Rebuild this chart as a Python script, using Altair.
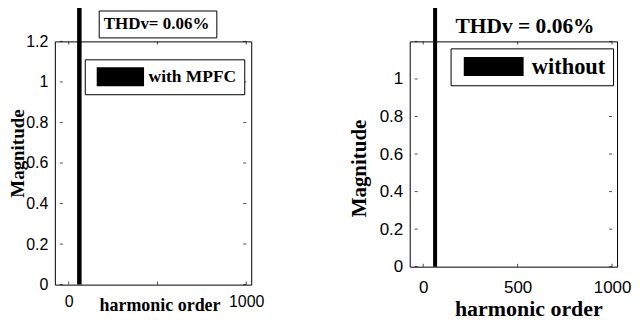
import altair as alt
import pandas as pd

# ---- data ----
series_names = ["with MPFC", "without"]
thd_texts = ["THDv= 0.06%", "THDv = 0.06%"]
spike_order = [60, 63]        # harmonic order of the single spike
spike_mag = [1.4, 1.4]        # magnitude of the spike (runs above the axes)
x_tick_vals = [0, 500, 1000]
y_tick_vals = [0, 0.2, 0.4, 0.6, 0.8, 1, 1.2]
left_x_labels = [0, 1000]
right_x_labels = [0, 500, 1000]
left_y_labels = [0, 0.2, 0.4, 0.6, 0.8, 1, 1.2]
right_y_labels = [0, 0.2, 0.4, 0.6, 0.8, 1]
x_min = [-50, -45]
x_max = 1000
y_max = 1.2

SERIF = "Liberation Serif, Times New Roman, serif"
NARROW = "Liberation Sans Narrow, Arial Narrow, Liberation Sans, Arial, sans-serif"
SANS = "Liberation Sans, Arial, sans-serif"


def edge_ticks(xs, ys, xmin, xaxis, yaxis):
    n = len(y_tick_vals)
    m = len(x_tick_vals)
    bottom = pd.DataFrame({"order": x_tick_vals, "mag": [0] * m})
    top = pd.DataFrame({"order": x_tick_vals, "mag": [y_max] * m})
    left = pd.DataFrame({"order": [xmin] * n, "mag": y_tick_vals})
    right = pd.DataFrame({"order": [x_max] * n, "mag": y_tick_vals})
    enc = dict(x=alt.X("order:Q", scale=xs, axis=xaxis), y=alt.Y("mag:Q", scale=ys, axis=yaxis))
    return [
        alt.Chart(bottom).mark_tick(orient="vertical", size=3, thickness=1, color="black", yOffset=-1.5).encode(**enc),
        alt.Chart(top).mark_tick(orient="vertical", size=3, thickness=1, color="black", yOffset=1.5).encode(**enc),
        alt.Chart(left).mark_tick(orient="horizontal", size=3, thickness=1, color="black", xOffset=1.5).encode(**enc),
        alt.Chart(right).mark_tick(orient="horizontal", size=3, thickness=1, color="black", xOffset=-1.5).encode(**enc),
    ]


def thd_layer(text, lx, ly, size, boxed, pad):
    df = pd.DataFrame({"thd": [text]})
    extra = dict(strokeColor="black", fillColor="white") if boxed else {}
    return alt.Chart(df).mark_point(opacity=0).encode(
        shape=alt.Shape("thd:N", legend=alt.Legend(
            title=text, titleOrient="left", titlePadding=0,
            titleFont=SERIF, titleFontSize=size, titleFontWeight="bold", titleColor="black",
            titleBaseline="top", titleLimit=400,
            orient="none", legendX=lx, legendY=ly, padding=pad,
            symbolSize=1, symbolOpacity=0, symbolStrokeWidth=0,
            labelExpr="''", labelFontSize=1, labelOffset=0, **extra)),
    )


def axis(values, fmt, title, tsize, tx, ty, angle, lfont, lsize, lpad):
    kw = dict(values=values, format=fmt, title=title,
              titleFont=SERIF, titleFontSize=tsize, titleFontWeight="bold", titleColor="black",
              titleX=tx, titleY=ty, titleBaseline="middle", titleAlign="center",
              labelFont=lfont, labelFontSize=lsize, labelColor="black", labelPadding=lpad,
              labelFlush=False, labelOverlap=False, ticks=False, tickSize=0, domain=False, grid=False)
    if angle is not None:
        kw["titleAngle"] = angle
    return alt.Axis(**kw)


# ---------------- left panel ----------------
xsL = alt.Scale(domain=[x_min[0], x_max], nice=False, zero=False)
ysL = alt.Scale(domain=[0, y_max], nice=False)
xaxL = axis(left_x_labels, "d", "harmonic order", 18, 105, 21, None, NARROW, 16, 9)
yaxL = axis(left_y_labels, "~g", "Magnitude", 19, -37, 112, 270, NARROW, 16, 7)

barL_df = pd.DataFrame({"order": [spike_order[0]], "mag": [spike_mag[0]], "series": [series_names[0]]})
barL = alt.Chart(barL_df).mark_bar(size=4.5, clip=False).encode(
    x=alt.X("order:Q", scale=xsL, axis=xaxL),
    y=alt.Y("mag:Q", scale=ysL, axis=yaxL),
    color=alt.Color("series:N", scale=alt.Scale(range=["black"]), legend=alt.Legend(
        title=None, orient="none", legendX=30, legendY=18,
        strokeColor="black", fillColor="white", padding=8,
        symbolType="M-2.5,-1H2.5V1H-2.5Z", symbolSize=361, symbolStrokeWidth=0,
        symbolOffset=18.25, labelOffset=18.75,
        labelFont=SERIF, labelFontSize=17.5, labelFontWeight="bold", labelColor="black", labelLimit=400)),
)

left = alt.layer(
    barL, thd_layer(thd_texts[0], 44, -31, 17, True, 5),
    *edge_ticks(xsL, ysL, x_min[0], xaxL, yaxL)
).properties(width=197, height=244)

# ---------------- right panel ----------------
xsR = alt.Scale(domain=[x_min[1], x_max], nice=False, zero=False)
ysR = alt.Scale(domain=[0, y_max], nice=False)
xaxR = axis(right_x_labels, "d", "harmonic order", 22, 119, 42, None, SANS, 17, 13)
yaxR = axis(right_y_labels, "~g", "Magnitude", 21, -50, 127, 270, SANS, 17, 7)

barR_df = pd.DataFrame({"order": [spike_order[1]], "mag": [spike_mag[1]], "series": [series_names[1]]})
barR = alt.Chart(barR_df).mark_bar(size=4, clip=False).encode(
    x=alt.X("order:Q", scale=xsR, axis=xaxR),
    y=alt.Y("mag:Q", scale=ysR, axis=yaxR),
    color=alt.Color("series:N", scale=alt.Scale(range=["black"]), legend=alt.Legend(
        title=None, orient="none", legendX=41, legendY=7,
        strokeColor="black", fillColor="white", padding=7,
        symbolType="M-3.16,-1H3.16V1H-3.16Z", symbolSize=361, symbolStrokeWidth=0,
        symbolOffset=25, labelOffset=27,
        labelFont=SERIF, labelFontSize=22.5, labelFontWeight="bold", labelColor="black", labelLimit=400)),
)

right = alt.layer(
    barR, thd_layer(thd_texts[1], 46, -26, 21.5, False, 0),
    *edge_ticks(xsR, ysR, x_min[1], xaxR, yaxR)
).properties(width=208, height=226)

chart = alt.hconcat(left, right, spacing=159, bounds="flush").resolve_scale(
    x="independent", y="independent", color="independent", shape="independent"
).resolve_legend(color="independent", shape="independent").properties(
    padding={"top": -9, "left": 0, "right": 0, "bottom": 0}
).configure(background="white").configure_view(stroke="black", strokeWidth=1)

chart.save("out.html", embed_options={"renderer": "svg", "actions": False})
